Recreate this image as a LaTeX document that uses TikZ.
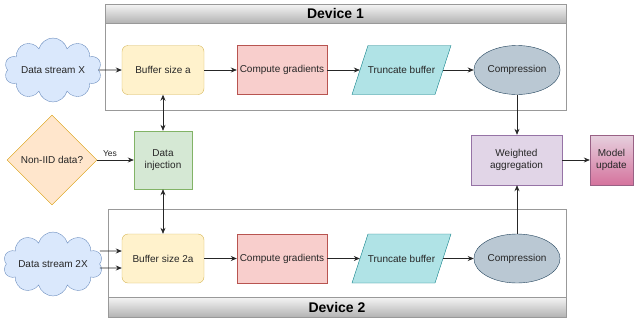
\documentclass[tikz,border=0pt]{standalone}
\usepackage{fontspec}
\setmainfont{Liberation Sans}
\usepackage{tikz}
\usetikzlibrary{arrows.meta}
\usetikzlibrary{positioning}
\usetikzlibrary{shapes.geometric}
\usetikzlibrary{shapes.symbols}

\definecolor{cloudfill}{HTML}{DAE8FC}
\definecolor{clouddraw}{HTML}{6C8EBF}
\definecolor{buffill}{HTML}{FFF2CC}
\definecolor{bufdraw}{HTML}{D6B656}
\definecolor{gradfill}{HTML}{F8CECC}
\definecolor{graddraw}{HTML}{B85450}
\definecolor{truncfill}{HTML}{B0E3E6}
\definecolor{truncdraw}{HTML}{0E8088}
\definecolor{compfill}{HTML}{BAC8D3}
\definecolor{compdraw}{HTML}{23445D}
\definecolor{decfill}{HTML}{FFE6CC}
\definecolor{decdraw}{HTML}{D79B00}
\definecolor{injfill}{HTML}{D5E8D4}
\definecolor{injdraw}{HTML}{82B366}
\definecolor{aggfill}{HTML}{E1D5E7}
\definecolor{aggdraw}{HTML}{9673A6}
\definecolor{modtop}{HTML}{E6D0DE}
\definecolor{modbot}{HTML}{D5739D}
\definecolor{moddraw}{HTML}{996185}
\definecolor{lanedraw}{HTML}{999999}
\definecolor{lanetop}{HTML}{F5F5F5}
\definecolor{lanebot}{HTML}{B3B3B3}

\tikzset{
  box/.style={draw, inner sep=1pt, align=center, text=black!85,
    font=\fontsize{10}{12}\selectfont},
  datacloud/.style={box, cloud, cloud puffs=10, cloud ignores aspect,
    fill=cloudfill, draw=clouddraw, minimum width=97pt, minimum height=64pt},
  buffer/.style={box, rounded corners=6pt, fill=buffill, draw=bufdraw,
    minimum width=82pt, minimum height=49pt},
  gradbox/.style={box, fill=gradfill, draw=graddraw,
    minimum width=90pt, minimum height=49pt},
  truncbox/.style={box, draw=none, minimum width=99pt, minimum height=49pt},
  slant/.style={fill=truncfill, draw=truncdraw},
  compbox/.style={box, ellipse, fill=compfill, draw=compdraw,
    minimum width=82pt, minimum height=49pt},
  decision/.style={box, diamond, aspect=1, fill=decfill, draw=decdraw,
    minimum width=90pt, minimum height=90pt},
  injbox/.style={box, fill=injfill, draw=injdraw,
    minimum width=58pt, minimum height=58pt},
  aggbox/.style={box, fill=aggfill, draw=aggdraw,
    minimum width=91pt, minimum height=50pt},
  modbox/.style={box, top color=modtop, bottom color=modbot, draw=moddraw,
    minimum width=43pt, minimum height=50pt},
  lane/.style={draw=lanedraw, line width=1pt},
  lanetitle/.style={draw=lanedraw, line width=1pt, top color=lanetop,
    bottom color=lanebot},
  arr/.style={-{Stealth[length=6pt,width=5pt]}, black!85, line width=0.7pt},
  darr/.style={{Stealth[length=6pt,width=5pt]}-{Stealth[length=6pt,width=5pt]},
    black!85, line width=0.7pt},
  lbl/.style={font=\fontsize{8.5}{10}\selectfont, text=black!85}
}

\begin{document}
\begin{tikzpicture}[x=1pt, y=-1pt]
  \useasboundingbox (0,0) rectangle (637,322);

  % device lanes
  \draw[lane] (105,4) rectangle (566,110);
  \shade[lanetitle] (105,4) rectangle (566,23);
  \node[font=\fontsize{14}{16}\selectfont\bfseries] (dev1) at (335.5,13.5) {Device 1};
  \draw[lane] (108,209) rectangle (566,317);
  \shade[lanetitle] (108,297) rectangle (566,317);
  \node[font=\fontsize{14}{16}\selectfont\bfseries] (dev2) at (337,307) {Device 2};

  % parallelogram outlines (drawn first, text node on top)
  \draw[slant] (352,94.5) -- (368,45.5) -- (451,45.5) -- (435,94.5) -- cycle;
  \draw[slant] (352,283) -- (368,234) -- (451,234) -- (435,283) -- cycle;

  % device 1 row
  \node[datacloud] (cloud1) at (53,70) {Data stream X};
  \node[buffer] (buf1) at (163,70) {Buffer size a};
  \node[gradbox] (grad1) at (282,70) {Compute gradients};
  \node[truncbox] (trunc1) at (401.5,70) {Truncate buffer};
  \node[compbox] (comp1) at (517,70) {Compression};

  % middle row
  \node[decision] (noniid) at (52,160) {Non-IID data?};
  \node[injbox] (inj) at (163,160) {Data\\injection};
  \node[aggbox] (wagg) at (516.5,160) {Weighted\\aggregation};
  \node[modbox] (model) at (611.5,160) {Model\\update};

  % device 2 row
  \node[datacloud] (cloud2) at (53,264) {Data stream 2X};
  \node[buffer] (buf2) at (163,258.5) {Buffer size 2a};
  \node[gradbox] (grad2) at (282,258.5) {Compute gradients};
  \node[truncbox] (trunc2) at (401.5,258.5) {Truncate buffer};
  \node[compbox] (comp2) at (517,258.5) {Compression};

  % connectors
  \draw[arr] (cloud1) -- (buf1);
  \draw[arr] (buf1) -- (grad1);
  \draw[arr] (grad1) -- ([xshift=8pt]trunc1.west);
  \draw[arr] ([xshift=-8pt]trunc1.east) -- (comp1);
  \draw[arr] (comp1.south) -- (wagg.north -| comp1.south);

  \draw[arr] ([yshift=13pt]cloud2.east) -- ([yshift=7.5pt]buf2.west);
  \draw[arr] ([yshift=-4pt]cloud2.east) -- ([yshift=-9.5pt]buf2.west);
  \draw[arr] (buf2) -- (grad2);
  \draw[arr] (grad2) -- ([xshift=8pt]trunc2.west);
  \draw[arr] ([xshift=-8pt]trunc2.east) -- (comp2);
  \draw[arr] (comp2.north) -- (wagg.south -| comp2.north);

  \draw[arr] (noniid) -- node[lbl, above, pos=0.35] {Yes} (inj);
  \draw[darr] (buf1) -- (inj);
  \draw[darr] (inj) -- (buf2);
  \draw[arr] (wagg) -- (model);
\end{tikzpicture}
\end{document}
